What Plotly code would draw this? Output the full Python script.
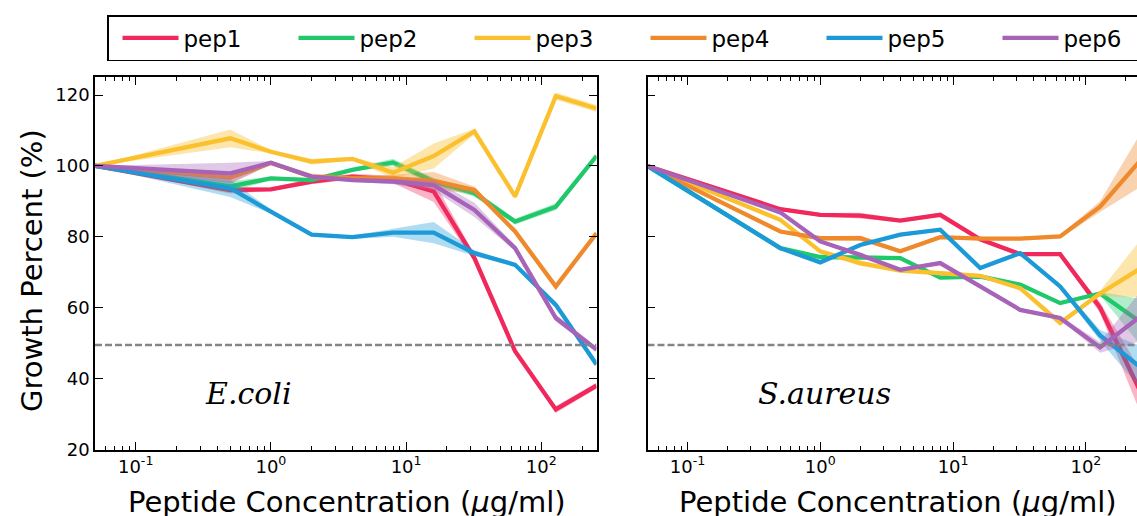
import math
import plotly.graph_objects as go

# ---------------- data ----------------
conc = [0.05, 0.5, 1, 2, 4, 8, 16, 32, 64, 128, 256]
peptides = ["pep1", "pep2", "pep3", "pep4", "pep5", "pep6"]
colors = ["#f0285c", "#20c86c", "#fbc02d", "#ef8a2c", "#1c9ad8", "#a663b8"]
band_colors = ["rgba(240,40,92,0.35)", "rgba(32,200,108,0.35)", "rgba(251,192,45,0.40)",
               "rgba(239,138,44,0.38)", "rgba(28,154,216,0.35)", "rgba(166,99,184,0.35)"]

# E.coli means / spreads
ecoli_pep1 = [100, 93.2, 93.4, 95.6, 97.0, 96.2, 92.8, 74.0, 47.7, 31.3, 38.0]
ecoli_pep2 = [100, 94.2, 96.5, 96.0, 98.9, 101.0, 95.6, 92.3, 84.3, 88.5, 102.8]
ecoli_pep3 = [100, 107.8, 104.0, 101.2, 102.0, 98.1, 102.8, 109.7, 91.4, 119.7, 116.2]
ecoli_pep4 = [100, 96.7, 100.8, 97.0, 96.5, 96.5, 95.8, 93.2, 81.5, 66.0, 81.0]
ecoli_pep5 = [100, 93.7, 87.1, 80.6, 79.9, 81.2, 81.2, 75.4, 72.1, 60.8, 44.0]
ecoli_pep6 = [100, 97.9, 100.9, 97.0, 96.0, 95.6, 94.6, 87.6, 76.8, 57.1, 48.2]
ecoli_sd1 = [0, 1.0, 0.5, 0.8, 0.8, 1.0, 3.0, 1.0, 0.5, 1.0, 0.8]
ecoli_sd2 = [0, 1.5, 0.5, 0.5, 0.5, 1.0, 1.0, 1.0, 0.8, 1.0, 0.8]
ecoli_sd3 = [0, 2.5, 0.5, 0.8, 0.5, 1.5, 3.5, 0.8, 0.8, 1.0, 1.0]
ecoli_sd4 = [0, 1.5, 0.5, 0.8, 0.8, 1.0, 2.5, 1.0, 0.5, 1.0, 0.5]
ecoli_sd5 = [0, 2.5, 0.5, 0.5, 0.5, 1.2, 3.0, 0.8, 0.5, 0.8, 0.5]
ecoli_sd6 = [0, 3.0, 0.5, 0.5, 0.5, 0.8, 1.5, 2.0, 0.8, 1.0, 0.8]

# S.aureus means / spreads
saureus_pep1 = [100, 87.8, 86.2, 86.0, 84.6, 86.2, 79.3, 75.1, 75.1, 60.0, 36.5]
saureus_pep2 = [100, 76.8, 74.3, 74.3, 74.0, 68.5, 68.8, 66.5, 61.3, 64.0, 56.0]
saureus_pep3 = [100, 84.8, 75.9, 72.6, 70.5, 69.8, 69.0, 65.5, 55.7, 64.0, 71.0]
saureus_pep4 = [100, 81.5, 79.6, 79.6, 75.9, 79.9, 79.5, 79.5, 80.1, 88.5, 101.5]
saureus_pep5 = [100, 76.8, 72.8, 77.7, 80.6, 82.0, 71.2, 75.4, 66.0, 52.2, 43.3]
saureus_pep6 = [100, 86.9, 78.7, 74.9, 70.7, 72.6, 66.0, 59.4, 57.1, 48.8, 57.5]
saureus_sd1 = [0, 0.5, 0.5, 0.8, 0.5, 0.5, 0.5, 0.5, 0.5, 1.5, 6.0]
saureus_sd2 = [0, 0.5, 0.5, 0.5, 0.5, 0.5, 0.5, 0.5, 0.5, 0.5, 6.5]
saureus_sd3 = [0, 0.5, 0.5, 0.8, 0.5, 0.5, 0.5, 0.5, 0.5, 0.8, 8.0]
saureus_sd4 = [0, 0.5, 0.5, 0.8, 0.5, 0.5, 0.5, 0.5, 0.5, 1.5, 7.5]
saureus_sd5 = [0, 0.5, 0.5, 0.5, 0.5, 0.5, 0.5, 0.5, 0.5, 1.5, 6.0]
saureus_sd6 = [0, 0.5, 0.5, 0.5, 0.5, 0.5, 0.5, 0.5, 0.5, 1.5, 7.0]

threshold = 49.5
y_ticks = [20, 40, 60, 80, 100, 120]
x_ticks = [0.1, 1, 10, 100]
x_tick_text = ["10<sup>-1</sup>", "10<sup>0</sup>", "10<sup>1</sup>", "10<sup>2</sup>"]
panel_labels = ["E.coli", "S.aureus"]
x_title = "Peptide Concentration (<i>μ</i>g/ml)"
y_title = "Growth Percent (%)"

ecoli_means = [ecoli_pep1, ecoli_pep2, ecoli_pep3, ecoli_pep4, ecoli_pep5, ecoli_pep6]
ecoli_sds = [ecoli_sd1, ecoli_sd2, ecoli_sd3, ecoli_sd4, ecoli_sd5, ecoli_sd6]
saureus_means = [saureus_pep1, saureus_pep2, saureus_pep3, saureus_pep4, saureus_pep5, saureus_pep6]
saureus_sds = [saureus_sd1, saureus_sd2, saureus_sd3, saureus_sd4, saureus_sd5, saureus_sd6]

# ---------------- geometry ----------------
W, H = 1137, 516
FONT = "DejaVu Sans"


def px_x(p):
    return p / W


def px_y(p):
    return 1 - p / H


fig = go.Figure()

panels = [("x", "y", ecoli_means, ecoli_sds, True), ("x2", "y2", saureus_means, saureus_sds, False)]
for xa, ya, means, sds, show in panels:
    for i, name in enumerate(peptides):
        m = means[i]
        s = sds[i]
        upper = [a + b for a, b in zip(m, s)]
        lower = [a - b for a, b in zip(m, s)]
        fig.add_trace(go.Scatter(x=conc, y=upper, xaxis=xa, yaxis=ya, mode="lines",
                                 line=dict(width=0, color=colors[i]), showlegend=False,
                                 hoverinfo="skip"))
        fig.add_trace(go.Scatter(x=conc, y=lower, xaxis=xa, yaxis=ya, mode="lines",
                                 line=dict(width=0, color=colors[i]), fill="tonexty",
                                 fillcolor=band_colors[i], showlegend=False, hoverinfo="skip"))
        fig.add_trace(go.Scatter(x=conc, y=m, xaxis=xa, yaxis=ya, mode="lines", name=name,
                                 legendgroup=name, showlegend=show,
                                 legendwidth=(110 if i == len(peptides) - 1 else None),
                                 line=dict(width=4.3, color=colors[i])))
    fig.add_trace(go.Scatter(x=[conc[0], conc[-1]], y=[threshold, threshold], xaxis=xa, yaxis=ya,
                             mode="lines", showlegend=False, hoverinfo="skip",
                             line=dict(color="#858585", width=2.5, dash="7px,3px")))

minor_vals = []
for dec in [0.01, 0.1, 1, 10, 100]:
    for k in range(2, 10):
        minor_vals.append(dec * k)

ydom = [px_y(449.5), px_y(77.3)]
x1dom = [px_x(95), px_x(596.5)]
x2dom = [px_x(647.5), 1.0]
lo = math.log10(conc[0])
hi1 = math.log10(conc[-1])
hi2 = lo + (W - 647.5) / 132.8

common_x = dict(type="log", tickmode="array", tickvals=x_ticks, ticktext=x_tick_text,
                ticks="inside", ticklen=8, tickwidth=1.2, tickcolor="black",
                showline=True, linecolor="black", linewidth=1.5, mirror="allticks",
                showgrid=False, zeroline=False, automargin=False,
                tickfont=dict(family=FONT, size=18, color="black"),
                minor=dict(tickmode="array", tickvals=minor_vals, ticks="inside", ticklen=4,
                           tickwidth=1, tickcolor="black", showgrid=False))
common_y = dict(range=[20, 125], tickmode="array", tickvals=y_ticks, ticks="inside", ticklen=8,
                tickwidth=1.2, tickcolor="black", showline=True, linecolor="black", linewidth=1.5,
                mirror="allticks", showgrid=False, zeroline=False, domain=ydom, automargin=False,
                tickfont=dict(family=FONT, size=18, color="black"))

ITEMW = 56
fig.update_layout(
    template="none",
    width=W, height=H,
    margin=dict(l=0, r=0, t=0, b=0, autoexpand=False),
    paper_bgcolor="white", plot_bgcolor="white",
    xaxis=dict(common_x, domain=x1dom, range=[lo, hi1], anchor="y"),
    xaxis2=dict(common_x, domain=x2dom, range=[lo, hi2], anchor="y2"),
    yaxis=dict(common_y, anchor="x"),
    yaxis2=dict(common_y, anchor="x2", showticklabels=False, mirror=True),
    showlegend=True,
    legend=dict(orientation="h", xref="paper", yref="paper",
                x=px_x(107), y=px_y(15), xanchor="left", yanchor="top",
                bordercolor="black", borderwidth=1.5, bgcolor="white",
                font=dict(family=FONT, size=23, color="black"),
                entrywidth=176 - (ITEMW + 10) - 5 - 9, entrywidthmode="pixels", itemwidth=ITEMW,
                indentation=9, traceorder="normal"),
)

annos = [
    dict(text=y_title, x=px_x(32), y=px_y(271), textangle=-90,
         font=dict(family=FONT, size=29, color="black")),
    dict(text=x_title, x=px_x(347), y=px_y(502),
         font=dict(family=FONT, size=29, color="black")),
    dict(text=x_title, x=px_x(898), y=px_y(502),
         font=dict(family=FONT, size=29, color="black")),
    dict(text="<i>" + panel_labels[0] + "</i>", x=px_x(248), y=px_y(393),
         font=dict(family="DejaVu Serif", size=30, color="black")),
    dict(text="<i>" + panel_labels[1] + "</i>", x=px_x(824), y=px_y(393),
         font=dict(family="DejaVu Serif", size=30, color="black")),
]
for a in annos:
    fig.add_annotation(xref="paper", yref="paper", showarrow=False,
                       xanchor="center", yanchor="middle", **a)

fig.write_html("out.html", config={"displayModeBar": False},
               post_script="document.body.style.margin='0px';document.body.style.overflow='hidden';")
